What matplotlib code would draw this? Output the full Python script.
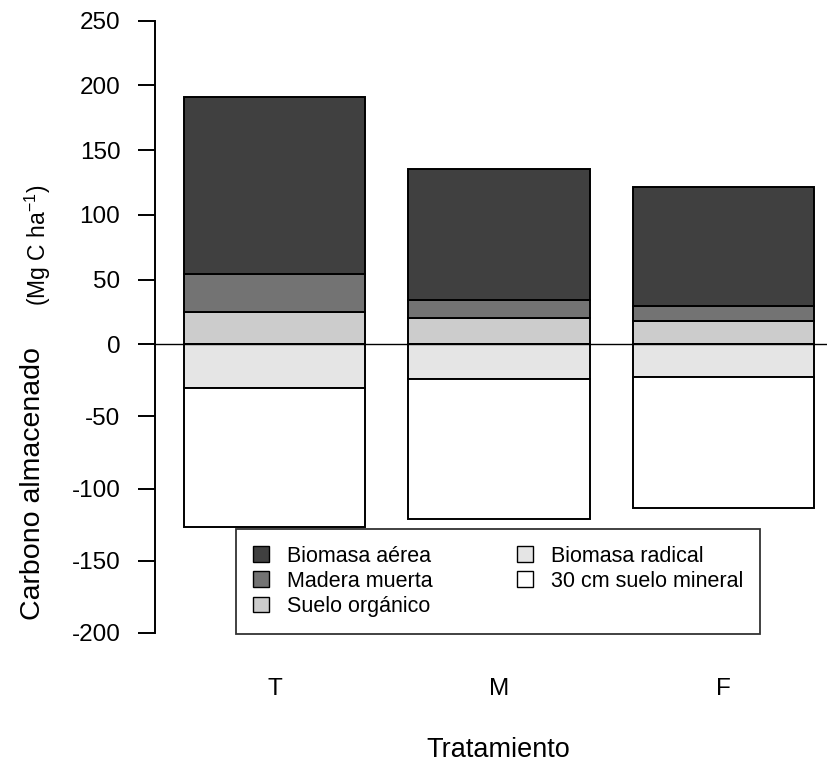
import numpy as np
import matplotlib.pyplot as plt
from matplotlib.patches import Patch

plt.rcParams['font.family'] = ['Liberation Sans', 'DejaVu Sans']
plt.rcParams['mathtext.fontset'] = 'custom'
plt.rcParams['mathtext.rm'] = 'Liberation Sans'

tratamientos = ['T', 'M', 'F']
# stocks above ground (positive) and below ground (negative)
suelo_organico = [24.7, 20.6, 17.8]
madera_muerta = [29.4, 13.6, 12.0]
biomasa_aerea = [137.2, 101.2, 91.7]
biomasa_radical = [30.1, 23.8, 22.5]
suelo_mineral = [96.8, 97.1, 90.8]

y_ticks = [-200, -150, -100, -50, 0, 50, 100, 150, 200, 250]

# the negative half of the axis is drawn slightly stretched
k_neg = 1.114


def fwd(y):
    y = np.asarray(y, dtype=float)
    return np.where(y < 0, y * k_neg, y)


def inv(y):
    y = np.asarray(y, dtype=float)
    return np.where(y < 0, y / k_neg, y)


fig = plt.figure(figsize=(8.27, 7.65), dpi=100)
ax = fig.add_axes([155 / 827, 1 - 632.7 / 765, 1 - 155 / 827, (632.7 - 20.7) / 765])

x = np.arange(len(tratamientos))
w = 0.81
so = np.array(suelo_organico)
mm = np.array(madera_muerta)
ba = np.array(biomasa_aerea)
br = np.array(biomasa_radical)
sm = np.array(suelo_mineral)

kw = dict(width=w, edgecolor='black', linewidth=1.4, zorder=2)
ax.bar(x, so, bottom=0, color='#cccccc', **kw)
ax.bar(x, mm, bottom=so, color='#737373', **kw)
ax.bar(x, ba, bottom=so + mm, color='#404040', **kw)
ax.bar(x, -br, bottom=0, color='#e5e5e5', **kw)
ax.bar(x, -sm, bottom=-br, color='white', **kw)

ax.axhline(0, color='black', linewidth=1.0, zorder=3)

ax.set_yscale('function', functions=(fwd, inv))
ax.set_ylim(-200, 250)
ax.set_xlim(-(274.5 - 155) / 224.5, (827 - 274.5) / 224.5)

ax.set_yticks(y_ticks)
ax.set_yticklabels([str(v) for v in y_ticks])
ax.yaxis.set_minor_locator(plt.NullLocator())
ax.tick_params(axis='y', length=12, width=1.4, pad=13, labelsize=17.5)
ax.set_xticks([])

for s in ['top', 'right', 'bottom']:
    ax.spines[s].set_visible(False)
ax.spines['left'].set_linewidth(1.4)
ax.spines['left'].set_bounds(-200, 250)

for xi, t in zip(x, tratamientos):
    ax.text(xi, -0.092, t, transform=ax.get_xaxis_transform(), ha='center', va='center',
            fontsize=17.5)

fig.text(498 / 827, 1 - 750 / 765, 'Tratamiento', ha='center', va='center', fontsize=19.5)
fig.text(33 / 827, 1 - 484 / 765, 'Carbono almacenado',
         rotation=90, ha='center', va='center', fontsize=20.5)
fig.text(38 / 827, 1 - 245 / 765, '(Mg C ha$^{-1}$)',
         rotation=90, ha='center', va='center', fontsize=16.5)

handles = [
    Patch(facecolor='#404040', edgecolor='black', label='Biomasa aérea'),
    Patch(facecolor='#737373', edgecolor='black', label='Madera muerta'),
    Patch(facecolor='#cccccc', edgecolor='black', label='Suelo orgánico'),
    Patch(facecolor='#e5e5e5', edgecolor='black', label='Biomasa radical'),
    Patch(facecolor='white', edgecolor='black', label='30 cm suelo mineral'),
]
leg = fig.legend(handles=handles, ncol=2, loc='upper left',
                 bbox_to_anchor=(236 / 827, 1 - 529 / 765), fontsize=15.5,
                 frameon=True, fancybox=False, handlelength=0.75, handleheight=0.75,
                 handletextpad=0.85, columnspacing=3.9, labelspacing=0.19,
                 borderpad=0.78, borderaxespad=0)
leg.get_frame().set_edgecolor('black')
leg.get_frame().set_linewidth(1.3)
leg.set_zorder(5)

fig.savefig('out.png', dpi=100)
